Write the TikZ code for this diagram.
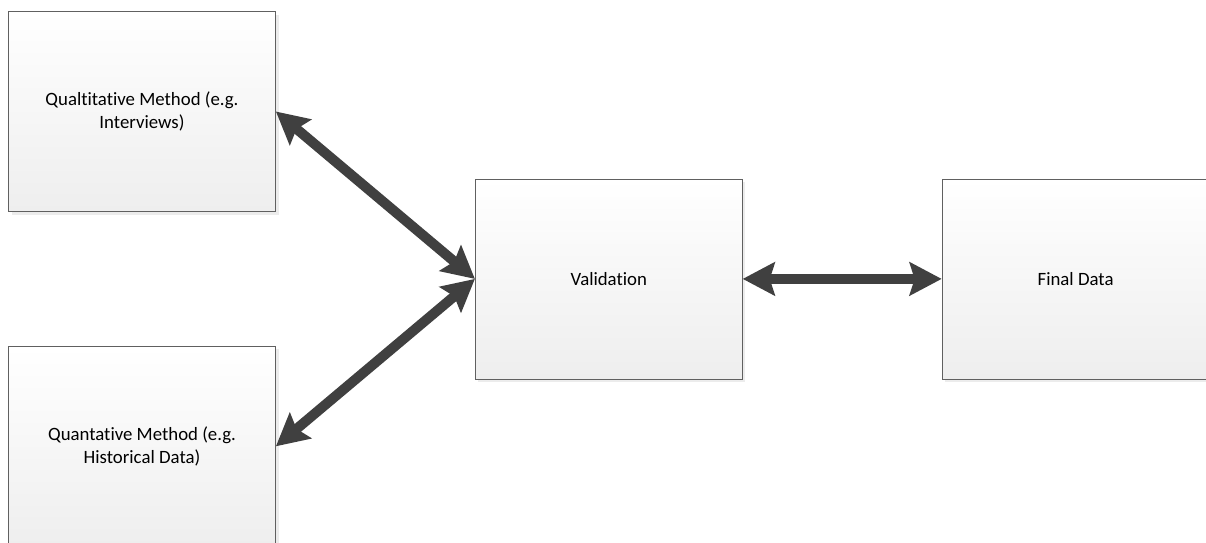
\documentclass[tikz,border=0pt]{standalone}
\usepackage{fontspec}
\setmainfont[Ligatures=NoCommon]{Carlito}
\usetikzlibrary{
    arrows.meta,
    positioning,
    calc,
    shadows
}
\definecolor{boxedge}{RGB}{96,96,96}
\definecolor{boxbottom}{RGB}{238,238,238}
\definecolor{arrowgray}{RGB}{64,64,64}

\begin{document}
\begin{tikzpicture}[
        x=1pt, y=1pt,
        block/.style={draw=boxedge, line width=0.8pt, top color=white, bottom color=boxbottom,
            minimum width=267pt, minimum height=200pt, align=center,
            font=\fontsize{18.8}{22.5}\selectfont,
            drop shadow={shadow xshift=3pt, shadow yshift=-3pt, fill=gray!25, opacity=0.6}},
        arrow/.style={{Stealth[length=32pt, width=33pt, inset=5pt]}-{Stealth[length=32pt, width=33pt, inset=5pt]},
            line width=10pt, draw=arrowgray}
    ]
        \useasboundingbox (0,0) rectangle (1206,-542);

        % Qualitative method
        \node[block] (qual) at (142,-111.5) {Qualtitative Method (e.g.\\Interviews)};

        % Quantitative method
        \node[block, below=134pt of qual] (quant) {Quantative Method (e.g.\\Historical Data)};

        % Validation
        \coordinate (mid) at ($(qual.east)!0.5!(quant.east)$);
        \node[block, right=199pt of mid] (valid) {Validation};

        % Final data
        \node[block, right=199pt of valid] (final) {Final Data};

        % Arrows
        \draw[arrow] (qual.east) -- (valid.west);
        \draw[arrow] (quant.east) -- (valid.west);
        \draw[arrow] (valid) -- (final);

    \end{tikzpicture}
\end{document}
